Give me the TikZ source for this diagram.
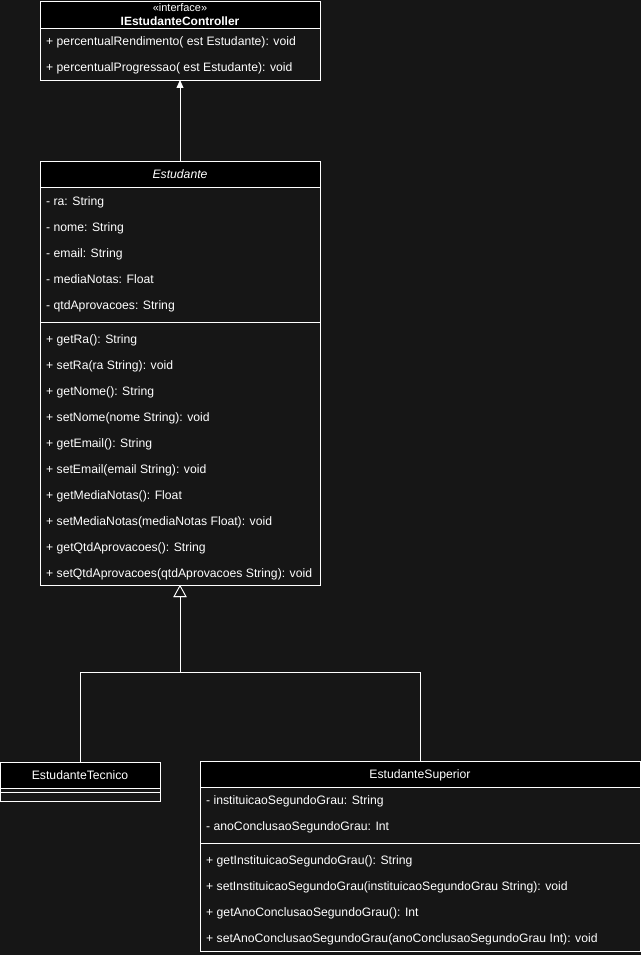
\documentclass[tikz,border=0pt]{standalone}
\usepackage{fontspec}
\setmainfont{Liberation Sans}
\usetikzlibrary{arrows.meta}
\definecolor{bg}{HTML}{161616}
\begin{document}
\begin{tikzpicture}[x=1pt,y=-1pt,
  box/.style={draw=white, fill=bg, line width=0.8pt, anchor=north west, inner sep=0pt, outer sep=0pt},
  hdr/.style={draw=white, fill=black, line width=0.8pt, anchor=north west, inner sep=0pt, outer sep=0pt},
  mem/.style={text=white, anchor=west, inner sep=0pt, font=\fontsize{12.2}{14}\selectfont, text height=10pt, text depth=1.5pt},
  ttl/.style={text=white, anchor=center, inner sep=0pt, font=\fontsize{12.2}{14}\selectfont, text height=10pt, text depth=1.5pt},
  sep/.style={draw=white, line width=0.8pt},
  conn/.style={draw=white, line width=0.8pt}
]
\fill[bg] (0,0) rectangle (641,955);
\useasboundingbox (0,0) rectangle (641,955);

% IEstudanteController
\node[box, minimum width=280pt, minimum height=79pt] (ctrl) at (40,1) {};
\node[hdr, minimum width=280pt, minimum height=27pt] (ctrlh) at (40,1) {};
\node[ttl, font=\fontsize{11}{13}\selectfont] (ctrls) at (180,7) {«interface»};
\node[ttl, font=\bfseries\fontsize{12}{14}\selectfont] (ctrln) at (180,21) {IEstudanteController};
\node[mem] (c1) at (46,41) {+ percentualRendimento( est Estudante): void};
\node[mem] (c2) at (46,67) {+ percentualProgressao( est Estudante): void};

% Estudante
\node[box, minimum width=280pt, minimum height=424pt] (est) at (40,161) {};
\node[hdr, minimum width=280pt, minimum height=26pt] (esth) at (40,161) {};
\node[ttl, font=\itshape\fontsize{12.2}{14}\selectfont] (estn) at (180,174) {Estudante};
\node[mem] (a1) at (46,201) {- ra: String};
\node[mem] (a2) at (46,227) {- nome: String};
\node[mem] (a3) at (46,253) {- email: String};
\node[mem] (a4) at (46,279) {- mediaNotas: Float};
\node[mem] (a5) at (46,305) {- qtdAprovacoes: String};
\draw[sep] (40,322) -- (320,322);
\node[mem] (b1) at (46,339) {+ getRa(): String};
\node[mem] (b2) at (46,365) {+ setRa(ra String): void};
\node[mem] (b3) at (46,391) {+ getNome(): String};
\node[mem] (b4) at (46,417) {+ setNome(nome String): void};
\node[mem] (b5) at (46,443) {+ getEmail(): String};
\node[mem] (b6) at (46,469) {+ setEmail(email String): void};
\node[mem] (b7) at (46,495) {+ getMediaNotas(): Float};
\node[mem] (b8) at (46,521) {+ setMediaNotas(mediaNotas Float): void};
\node[mem] (b9) at (46,547) {+ getQtdAprovacoes(): String};
\node[mem] (b10) at (46,573) {+ setQtdAprovacoes(qtdAprovacoes String): void};

% EstudanteTecnico
\node[box, minimum width=160pt, minimum height=39pt] (tec) at (0,762) {};
\node[hdr, minimum width=160pt, minimum height=26pt] (tech) at (0,762) {};
\node[ttl] (tecn) at (80,775) {EstudanteTecnico};
\draw[sep] (0,792) -- (160,792);

% EstudanteSuperior
\node[box, minimum width=440pt, minimum height=190pt] (sup) at (200,761) {};
\node[hdr, minimum width=440pt, minimum height=26pt] (suph) at (200,761) {};
\node[ttl] (supn) at (420,774) {EstudanteSuperior};
\node[mem] (s1) at (206,800) {- instituicaoSegundoGrau: String};
\node[mem] (s2) at (206,826) {- anoConclusaoSegundoGrau: Int};
\draw[sep] (200,843) -- (640,843);
\node[mem] (t1) at (206,860) {+ getInstituicaoSegundoGrau(): String};
\node[mem] (t2) at (206,886) {+ setInstituicaoSegundoGrau(instituicaoSegundoGrau String): void};
\node[mem] (t3) at (206,912) {+ getAnoConclusaoSegundoGrau(): Int};
\node[mem] (t4) at (206,938) {+ setAnoConclusaoSegundoGrau(anoConclusaoSegundoGrau Int): void};

% connectors
\draw[conn, -{Triangle[width=7pt,length=8pt,fill=white]}] (esth.north) -- (ctrl.south);
\coordinate (j) at (180,672);
\draw[conn, -{Triangle[open,width=13pt,length=12pt,fill=bg]}] (tech.north) |- (j) -- (est.south);
\draw[conn, -{Triangle[open,width=13pt,length=12pt,fill=bg]}] (suph.north) |- (j) -- (est.south);
\end{tikzpicture}
\end{document}
